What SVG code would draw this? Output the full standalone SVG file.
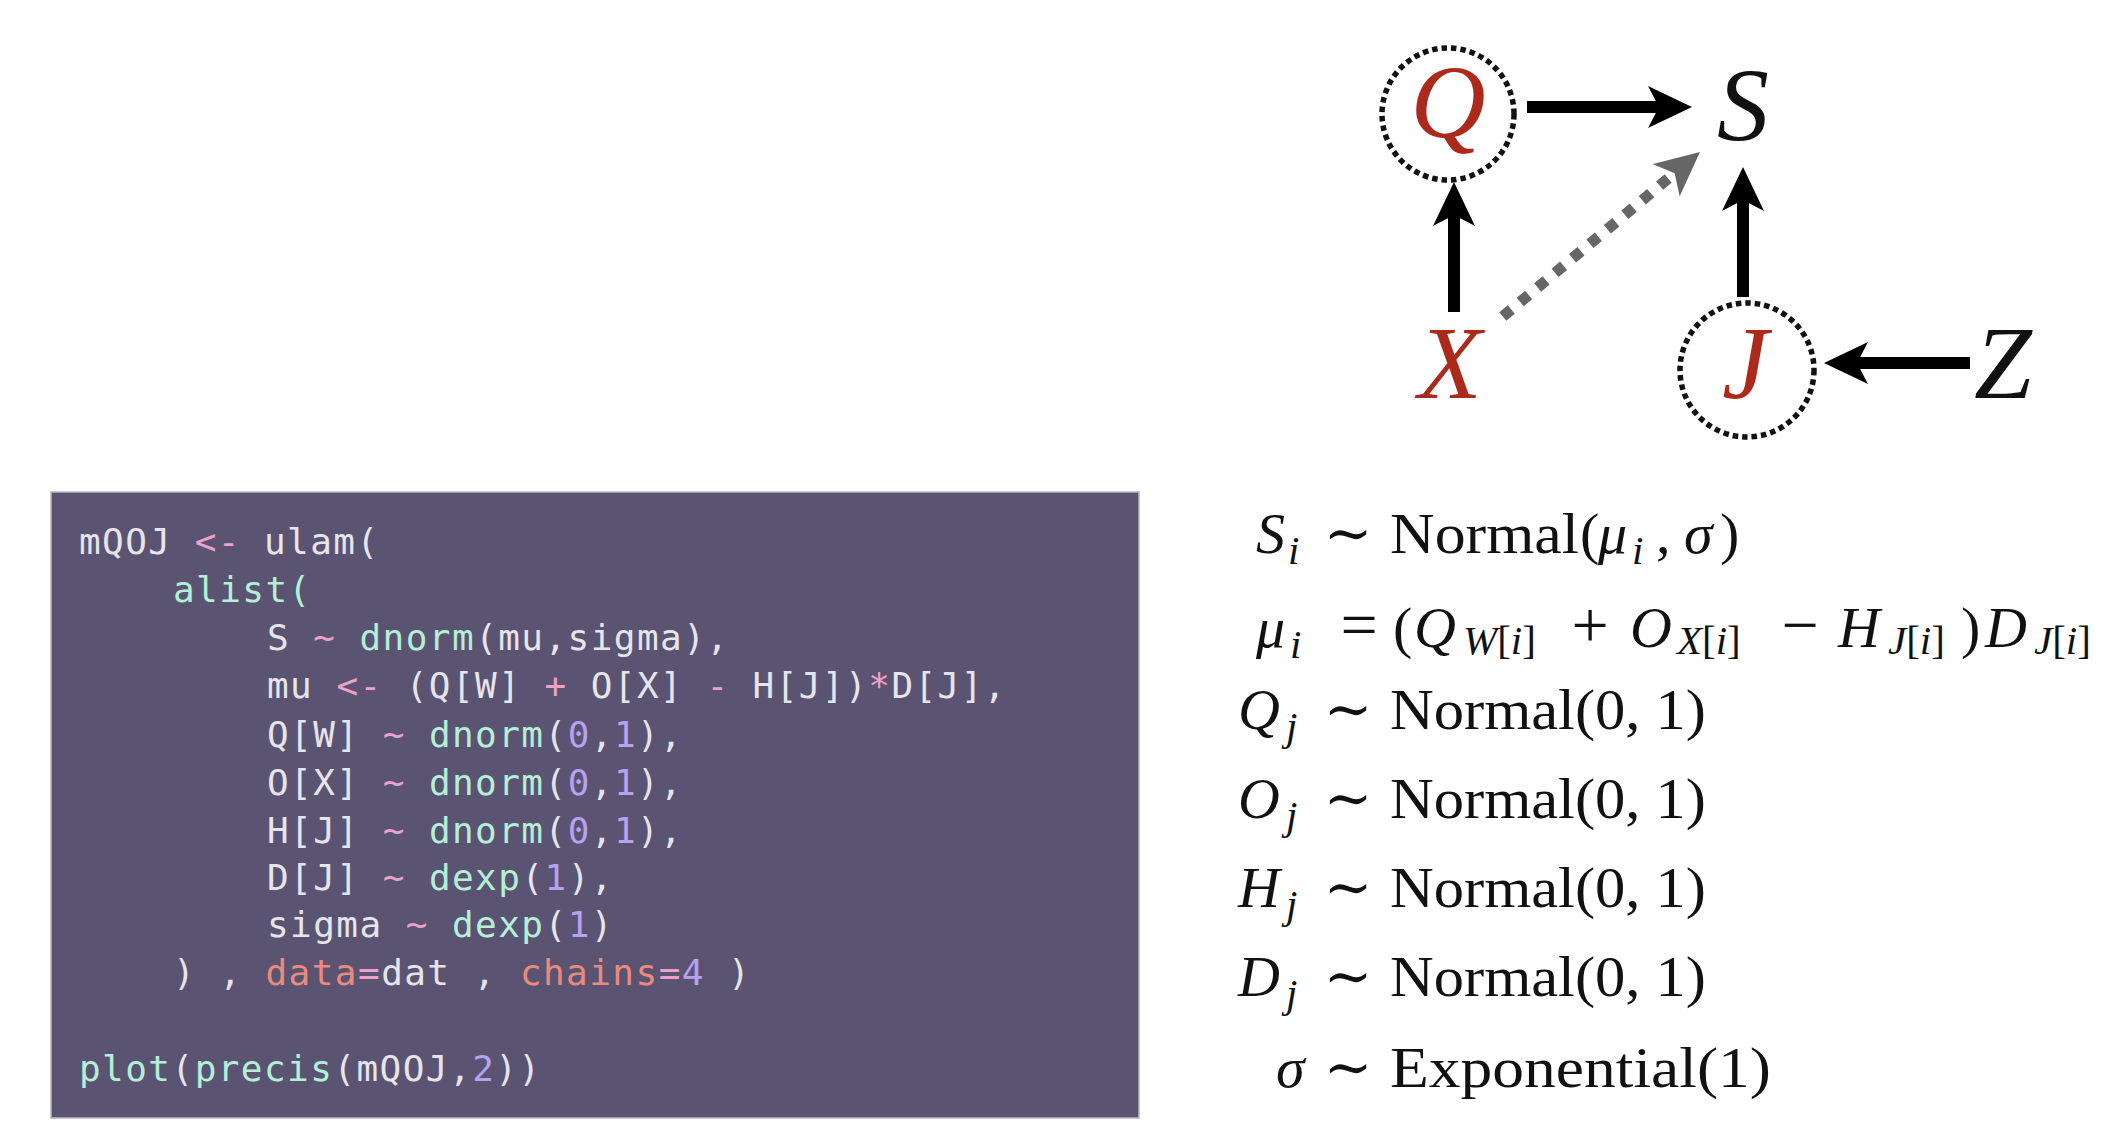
<svg xmlns="http://www.w3.org/2000/svg" width="2118" height="1148" viewBox="0 0 2118 1148">
<defs>
<style>
.dag{font-family:"Liberation Serif","DejaVu Serif",serif;font-style:italic;font-size:104px;text-anchor:middle}
.red{fill:#ab2a1c}
.blk{fill:#111}
.ring{fill:none;stroke:#111;stroke-width:5.5;stroke-dasharray:5.5 4}
.arw{stroke:#000;stroke-width:12;fill:none}
.gry{stroke:#666;stroke-width:11;fill:none;stroke-dasharray:11 11.7}
.code{font-family:"DejaVu Sans Mono","Liberation Mono",monospace;font-size:36px;letter-spacing:1.45px;fill:#e7e5ec;white-space:pre}
.op{fill:#eaa2c8}
.fn{fill:#b4efd6}
.num{fill:#b6a2ee}
.arg{fill:#ea8a7c}
.m{font-family:"Liberation Serif","DejaVu Serif",serif;font-size:58px;fill:#111}
.i{font-style:italic}
.s{font-size:41px}
.sim{font-family:"DejaVu Serif","Liberation Serif",serif;text-anchor:middle}
.mid{text-anchor:middle}
</style>
<marker id="ah" viewBox="0 0 44 42" refX="12" refY="21" markerWidth="44" markerHeight="42" markerUnits="userSpaceOnUse" orient="auto">
<path d="M0,0 L44,21 L0,42 L11,21 Z" fill="#000"/>
</marker>
<marker id="ahg" viewBox="0 0 44 42" refX="12" refY="21" markerWidth="44" markerHeight="42" markerUnits="userSpaceOnUse" orient="auto">
<path d="M0,0 L44,21 L0,42 L11,21 Z" fill="#666"/>
</marker>
</defs>
<rect width="2118" height="1148" fill="#ffffff"/>

<g id="connectors">
<line class="arw" x1="1527" y1="107" x2="1660" y2="107" marker-end="url(#ah)"/>
<line class="arw" x1="1454" y1="312" x2="1454" y2="214" marker-end="url(#ah)"/>
<line class="arw" x1="1743" y1="297" x2="1743" y2="199" marker-end="url(#ah)"/>
<line class="arw" x1="1970" y1="363" x2="1856" y2="363" marker-end="url(#ah)"/>
<line class="gry" x1="1502.8" y1="316.5" x2="1675.4" y2="172.5" marker-end="url(#ahg)"/>
</g>

<g id="node-Q">
<circle class="ring" cx="1448" cy="114" r="66"/>
<text class="dag red" x="1448" y="137">Q</text>
</g>
<g id="node-S">
<text class="dag blk" x="1743" y="140">S</text>
</g>
<g id="node-X">
<text class="dag red" x="1450" y="398">X</text>
</g>
<g id="node-J">
<circle class="ring" cx="1747" cy="370" r="67"/>
<text class="dag red" x="1745" y="398">J</text>
</g>
<g id="node-Z">
<text class="dag blk" x="2003" y="398">Z</text>
</g>

<g id="code">
<rect x="51" y="492" width="1088" height="626" fill="#5a5472" stroke="#b9b7c6" stroke-width="1.5"/>
<text class="code" xml:space="preserve" x="79" y="554">mQOJ <tspan class="op">&lt;-</tspan> ulam(</text>
<text class="code" xml:space="preserve" x="173" y="602"><tspan class="fn">alist(</tspan></text>
<text class="code" xml:space="preserve" x="267" y="650">S <tspan class="op">~</tspan> <tspan class="fn">dnorm</tspan>(mu,sigma),</text>
<text class="code" xml:space="preserve" x="267" y="698">mu <tspan class="op">&lt;-</tspan> (Q[W] <tspan class="op">+</tspan> O[X] <tspan class="op">-</tspan> H[J])<tspan class="op">*</tspan>D[J],</text>
<text class="code" xml:space="preserve" x="267" y="747">Q[W] <tspan class="op">~</tspan> <tspan class="fn">dnorm</tspan>(<tspan class="num">0</tspan>,<tspan class="num">1</tspan>),</text>
<text class="code" xml:space="preserve" x="267" y="795">O[X] <tspan class="op">~</tspan> <tspan class="fn">dnorm</tspan>(<tspan class="num">0</tspan>,<tspan class="num">1</tspan>),</text>
<text class="code" xml:space="preserve" x="267" y="843">H[J] <tspan class="op">~</tspan> <tspan class="fn">dnorm</tspan>(<tspan class="num">0</tspan>,<tspan class="num">1</tspan>),</text>
<text class="code" xml:space="preserve" x="267" y="890">D[J] <tspan class="op">~</tspan> <tspan class="fn">dexp</tspan>(<tspan class="num">1</tspan>),</text>
<text class="code" xml:space="preserve" x="267" y="937">sigma <tspan class="op">~</tspan> <tspan class="fn">dexp</tspan>(<tspan class="num">1</tspan>)</text>
<text class="code" xml:space="preserve" x="173" y="985">) , <tspan class="arg">data</tspan><tspan class="op">=</tspan>dat , <tspan class="arg">chains</tspan><tspan class="op">=</tspan><tspan class="num">4</tspan> )</text>
<text class="code" xml:space="preserve" x="79" y="1081"><tspan class="fn">plot</tspan>(<tspan class="fn">precis</tspan>(mQOJ,<tspan class="num">2</tspan>))</text>
</g>

<g id="model">
<text class="m i" x="1256" y="553">S</text>
<text class="m i s" x="1288" y="564">i</text>
<text class="m sim" x="1348" y="553">∼</text>
<text class="m" x="1390" y="553"><tspan textLength="189" lengthAdjust="spacingAndGlyphs">Normal</tspan></text>
<text class="m" x="1580" y="553">(</text>
<text class="m i" x="1598" y="553">μ</text>
<text class="m i s" x="1632" y="564">i</text>
<text class="m" x="1656" y="553">,</text>
<text class="m i" x="1684" y="553">σ</text>
<text class="m" x="1720" y="553">)</text>

<text class="m i" x="1256" y="647">μ</text>
<text class="m i s" x="1290" y="658">i</text>
<text class="m mid" x="1359" y="647" style="font-size:66px">=</text>
<text class="m" x="1393" y="647">(</text>
<text class="m i" x="1414" y="647">Q</text>
<text class="m s" x="1463" y="654"><tspan class="i">W</tspan>[<tspan class="i">i</tspan>]</text>
<text class="m mid" x="1590" y="647" style="font-size:66px">+</text>
<text class="m i" x="1630" y="647">O</text>
<text class="m s" x="1677" y="654"><tspan class="i">X</tspan>[<tspan class="i">i</tspan>]</text>
<text class="m mid" x="1800" y="647" style="font-size:66px">−</text>
<text class="m i" x="1838" y="647">H</text>
<text class="m s" x="1888" y="654"><tspan class="i">J</tspan>[<tspan class="i">i</tspan>]</text>
<text class="m" x="1961" y="647">)</text>
<text class="m i" x="1985" y="647">D</text>
<text class="m s" x="2034" y="654"><tspan class="i">J</tspan>[<tspan class="i">i</tspan>]</text>

<text class="m i" x="1238" y="729">Q</text>
<text class="m i s" x="1286" y="740">j</text>
<text class="m sim" x="1348" y="729">∼</text>
<text class="m" x="1390" y="729" textLength="316" lengthAdjust="spacingAndGlyphs">Normal(0, 1)</text>

<text class="m i" x="1238" y="818">O</text>
<text class="m i s" x="1286" y="829">j</text>
<text class="m sim" x="1348" y="818">∼</text>
<text class="m" x="1390" y="818" textLength="316" lengthAdjust="spacingAndGlyphs">Normal(0, 1)</text>

<text class="m i" x="1238" y="907">H</text>
<text class="m i s" x="1286" y="918">j</text>
<text class="m sim" x="1348" y="907">∼</text>
<text class="m" x="1390" y="907" textLength="316" lengthAdjust="spacingAndGlyphs">Normal(0, 1)</text>

<text class="m i" x="1238" y="996">D</text>
<text class="m i s" x="1286" y="1007">j</text>
<text class="m sim" x="1348" y="996">∼</text>
<text class="m" x="1390" y="996" textLength="316" lengthAdjust="spacingAndGlyphs">Normal(0, 1)</text>

<text class="m i" x="1276" y="1087">σ</text>
<text class="m sim" x="1348" y="1087">∼</text>
<text class="m" x="1390" y="1087" textLength="381" lengthAdjust="spacingAndGlyphs">Exponential(1)</text>
</g>
</svg>
